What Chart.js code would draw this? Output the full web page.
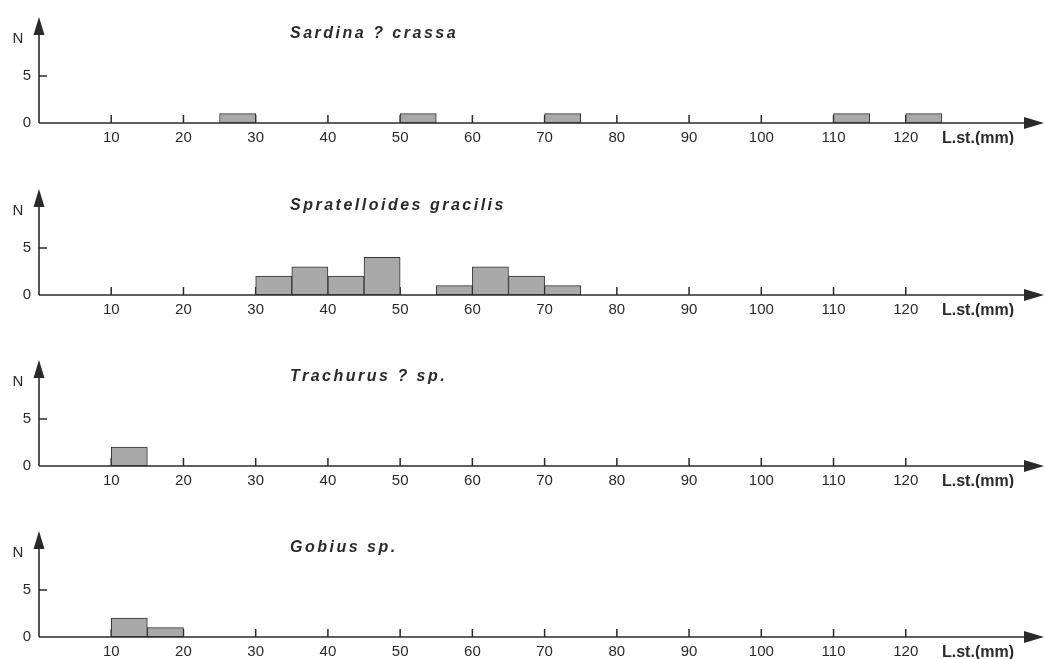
<!DOCTYPE html>
<html>
<head>
<meta charset="utf-8">
<script src="https://cdn.jsdelivr.net/npm/chart.js@4.4.1/dist/chart.umd.min.js"></script>
<style>
  html, body { margin: 0; padding: 0; background: #ffffff; overflow: hidden; }
  body { width: 1045px; height: 659px; position: relative; }
  .panel { position: absolute; left: 0; width: 1045px; height: 145px; }
</style>
</head>
<body>
<div class="panel" style="top:0px"><canvas id="c0"></canvas></div>
<div class="panel" style="top:172px"><canvas id="c1"></canvas></div>
<div class="panel" style="top:343px"><canvas id="c2"></canvas></div>
<div class="panel" style="top:514px"><canvas id="c3"></canvas></div>
<script>
// ---- Data (standard length classes, 5 mm bins) ----
const binStarts = [0,5,10,15,20,25,30,35,40,45,50,55,60,65,70,75,80,85,90,95,100,105,110,115,120,125,130,135];
const binWidth = 5;

const speciesNames = ['Sardina ? crassa', 'Spratelloides gracilis', 'Trachurus ? sp.', 'Gobius sp.'];

const sardinaCounts      = [0,0,0,0,0,1,0,0,0,0,1,0,0,0,1,0,0,0,0,0,0,0,1,0,1,0,0,0];
const spratelloidesCounts= [0,0,0,0,0,0,2,3,2,4,0,1,3,2,1,0,0,0,0,0,0,0,0,0,0,0,0,0];
const trachurusCounts    = [0,0,2,0,0,0,0,0,0,0,0,0,0,0,0,0,0,0,0,0,0,0,0,0,0,0,0,0];
const gobiusCounts       = [0,0,2,1,0,0,0,0,0,0,0,0,0,0,0,0,0,0,0,0,0,0,0,0,0,0,0,0];

const xTickValues = [10,20,30,40,50,60,70,80,90,100,110,120,130];
const xTickMarks  = [10,20,30,40,50,60,70,80,90,100,110,120];
const xAxisLabelValue = 130;
const xAxisLabel = 'L.st.(mm)';
const yTickValues = [0,5];
const yAxisLabel = 'N';
const xMax = 139;
const yMax = 11.25;

const allCounts = [sardinaCounts, spratelloidesCounts, trachurusCounts, gobiusCounts];

const FONT = "'Liberation Sans', Arial, Helvetica, sans-serif";
const INK = '#2a2a2a';

const axesPlugin = {
  id: 'axesArrows',
  beforeDatasetsDraw(chart) {
    const ctx = chart.ctx;
    const x = chart.scales.x, y = chart.scales.y;
    const a = chart.chartArea;
    ctx.save();
    ctx.strokeStyle = INK;
    ctx.lineWidth = 1.5;
    ctx.beginPath();
    xTickMarks.forEach(v => {
      const px = x.getPixelForValue(v);
      ctx.moveTo(px, a.bottom);
      ctx.lineTo(px, a.bottom - 8);
    });
    const py = y.getPixelForValue(5);
    ctx.moveTo(a.left, py);
    ctx.lineTo(a.left + 8, py);
    ctx.stroke();
    ctx.restore();
  },
  afterDatasetsDraw(chart, args, opts) {
    const ctx = chart.ctx;
    const a = chart.chartArea;
    ctx.save();
    ctx.strokeStyle = INK;
    ctx.fillStyle = INK;
    ctx.lineWidth = 1.6;
    // x axis line
    ctx.beginPath();
    ctx.moveTo(a.left, a.bottom);
    ctx.lineTo(a.right - 10, a.bottom);
    ctx.stroke();
    // x arrow
    ctx.beginPath();
    ctx.moveTo(a.right + 1, a.bottom);
    ctx.lineTo(a.right - 19, a.bottom - 6);
    ctx.lineTo(a.right - 19, a.bottom + 6);
    ctx.closePath();
    ctx.fill();
    // y axis line
    ctx.beginPath();
    ctx.moveTo(a.left, a.bottom);
    ctx.lineTo(a.left, a.top + 10);
    ctx.stroke();
    // y arrow
    ctx.beginPath();
    ctx.moveTo(a.left, a.top);
    ctx.lineTo(a.left - 5.5, a.top + 18);
    ctx.lineTo(a.left + 5.5, a.top + 18);
    ctx.closePath();
    ctx.fill();
    // N label
    ctx.font = '15px ' + FONT;
    ctx.textAlign = 'center';
    ctx.textBaseline = 'alphabetic';
    ctx.fillText(yAxisLabel, a.left - 21, a.top + 26);
    // species title
    ctx.font = 'italic bold 16px ' + FONT;
    ctx.textAlign = 'left';
    try { ctx.letterSpacing = '2.5px'; } catch (e) {}
    ctx.fillText(opts.title || '', a.left + 251, a.top + 21);
    try { ctx.letterSpacing = '0px'; } catch (e) {}
    ctx.restore();
  }
};

function makeChart(canvasId, counts, title) {
  const data = binStarts.map((b, i) => ({ x: b + binWidth / 2, y: counts[i] ? counts[i] : null }));
  return new Chart(document.getElementById(canvasId), {
    type: 'bar',
    data: {
      datasets: [{
        data: data,
        backgroundColor: '#a9a9a9',
        borderColor: '#333333',
        borderWidth: 1,
        borderSkipped: false,
        barPercentage: 1,
        categoryPercentage: 1
      }]
    },
    options: {
      responsive: true,
      maintainAspectRatio: false,
      animation: false,
      layout: { padding: { top: 13, right: 2, left: 0, bottom: 0 } },
      plugins: {
        legend: { display: false },
        tooltip: { enabled: false },
        title: { display: false },
        axesArrows: { title: title }
      },
      scales: {
        x: {
          type: 'linear',
          min: 0,
          max: xMax,
          offset: false,
          grid: { display: false, drawTicks: false, offset: false },
          border: { display: false },
          afterBuildTicks: (s) => { s.ticks = xTickValues.map(v => ({ value: v })); },
          afterFit: (s) => { s.height = 22; },
          ticks: {
            autoSkip: false,
            maxRotation: 0,
            padding: 6,
            color: INK,
            font: (c) => (c.tick && c.tick.value === xAxisLabelValue)
              ? { family: FONT, size: 16, weight: 'bold' }
              : { family: FONT, size: 15 },
            callback: (v) => v === xAxisLabelValue ? xAxisLabel : String(v)
          }
        },
        y: {
          type: 'linear',
          min: 0,
          max: yMax,
          grid: { display: false, drawTicks: false },
          border: { display: false },
          afterBuildTicks: (s) => { s.ticks = yTickValues.map(v => ({ value: v })); },
          afterFit: (s) => { s.width = 39; },
          ticks: {
            padding: 8,
            color: INK,
            font: { family: FONT, size: 15 },
            callback: (v) => String(v)
          }
        }
      }
    },
    plugins: [axesPlugin]
  });
}

allCounts.forEach((counts, i) => makeChart('c' + i, counts, speciesNames[i]));
</script>
</body>
</html>
